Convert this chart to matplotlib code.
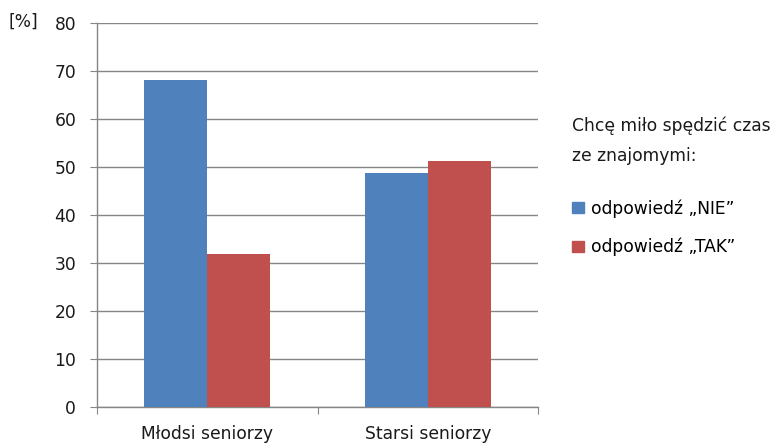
import matplotlib
matplotlib.use("Agg")
import matplotlib.pyplot as plt
from matplotlib.patches import Patch

categories = ["Młodsi seniorzy", "Starsi seniorzy"]
series_names = ["odpowiedź „NIE”", "odpowiedź „TAK”"]
nie_values = [68.1, 48.8]
tak_values = [31.9, 51.2]
yticks = [0, 10, 20, 30, 40, 50, 60, 70, 80]
legend_title = "Chcę miło spędzić czas\nze znajomymi:"

plt.rcParams['font.family'] = ['DejaVu Sans']
blue = "#4F81BD"
red = "#C0504D"
grid_c = "#868686"
txt_c = "#1a1a1a"
fs = 12.3

fig = plt.figure(figsize=(7.78, 4.44), dpi=100)
ax = fig.add_axes([97/778, 1-407/444, (538-97)/778, (407-23)/444])

w = 0.285
x = list(range(len(categories)))
ax.bar([i - w/2 for i in x], nie_values, width=w, color=blue, label=series_names[0], zorder=3)
ax.bar([i + w/2 for i in x], tak_values, width=w, color=red, label=series_names[1], zorder=3)

ax.set_xlim(-0.5, len(categories) - 0.5)
ax.set_ylim(0, 80)
ax.set_yticks(yticks)
ax.set_yticklabels([str(v) for v in yticks], fontsize=fs, color=txt_c)
ax.yaxis.grid(True, color=grid_c, linewidth=1.0, zorder=0)
ax.set_axisbelow(True)

ax.set_xticks([-0.5, 0.5, 1.5])
ax.set_xticklabels([])
ax.set_xticks(x, minor=True)
ax.set_xticklabels(categories, minor=True, fontsize=fs, color=txt_c)
ax.tick_params(axis='x', which='minor', length=0, pad=13)
ax.tick_params(axis='x', which='major', length=5, color=grid_c, direction='out')
ax.tick_params(axis='y', length=5, color=grid_c, direction='out', pad=10)

for s in ["top", "right"]:
    ax.spines[s].set_visible(False)
for s in ["left", "bottom"]:
    ax.spines[s].set_color(grid_c)
    ax.spines[s].set_linewidth(1.0)

fig.text(8/778, 1-22/444, "[%]", fontsize=fs, color=txt_c, va="center", ha="left")

fig.text(572/778, 1-141/444, legend_title, fontsize=fs, color=txt_c,
         va="center", ha="left", linespacing=1.85)

handles = [Patch(color=blue), Patch(color=red)]
fig.legend(handles, series_names, loc="upper left", bbox_to_anchor=(572/778, 1-199/444),
           frameon=False, fontsize=fs, handlelength=0.7, handleheight=0.7,
           handletextpad=0.4, labelspacing=1.2, borderaxespad=0, borderpad=0)

fig.savefig("out.png", dpi=100)
